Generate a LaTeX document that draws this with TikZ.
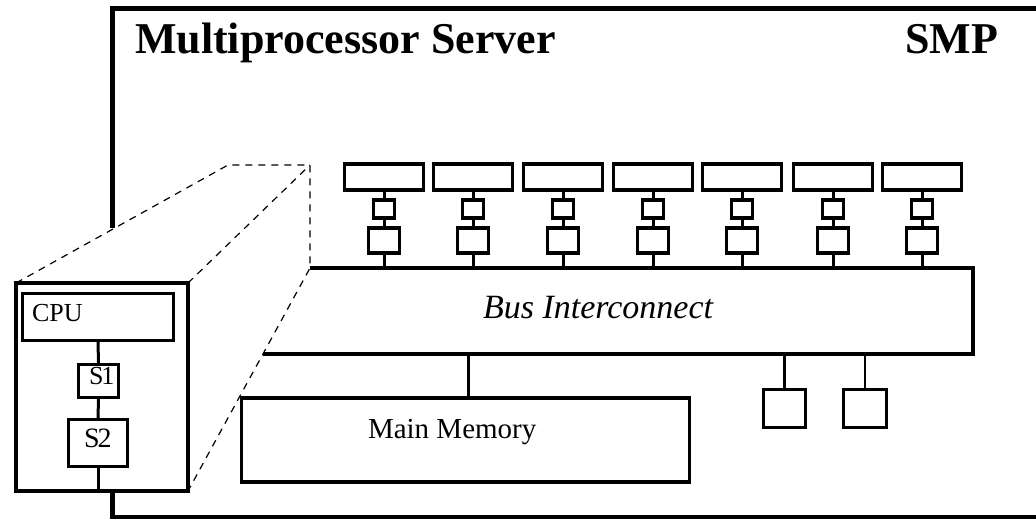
\documentclass[tikz,border=0pt]{standalone}
\usepackage{fontspec}
\setmainfont{Liberation Serif}
\begin{document}
\begin{tikzpicture}[x=1pt,y=-1pt,
  box/.style={draw,line width=3.5pt,inner sep=0pt,outer sep=0pt},
  wire/.style={line width=3pt},
  thinwire/.style={line width=2.2pt},
  framepen/.style={line width=5pt},
  zoomline/.style={line width=1.2pt,dash pattern=on 7pt off 6pt},
  lbl/.style={inner sep=0pt,outer sep=0pt,anchor=base west}]
\useasboundingbox (0,0) rectangle (1036,520);

% bus corners (left side is hidden behind the zoom outline)
\coordinate (busTL) at (310,268);
\coordinate (busTR) at (973,268);
\coordinate (busBR) at (973,354);
\coordinate (busBL) at (263,354);
\draw[line width=3.5pt] (busTL) -- (busTR) -- (busBR) -- (busBL);
\node[lbl,font={\fontsize{34}{40}\selectfont\itshape}] (bustext) at (483,318) {Bus Interconnect};

% processors with their two cache levels
\foreach \i/\x in {1/384,2/473,3/563,4/653,5/742,6/833,7/922} {
  \node[box,minimum width=79pt,minimum height=26pt] (cpu\i) at (\x,177) {};
  \node[box,minimum width=21pt,minimum height=18pt] (sa\i) at (\x,209) {};
  \node[box,minimum width=31pt,minimum height=25pt] (sb\i) at (\x,240.5) {};
  \draw[wire] (cpu\i.south) -- (sa\i.north);
  \draw[wire] (sa\i.south) -- (sb\i.north);
  \draw[wire] (sb\i.south) -- (sb\i.south |- busTL);
}

% main memory
\node[box,minimum width=448pt,minimum height=84pt] (mem) at (465.5,440) {};
\node[lbl,font={\fontsize{29}{34}\selectfont}] (memtext) at (368,438) {Main Memory};
\draw[wire] ([xshift=2.5pt]mem.north) -- ([xshift=2.5pt]mem.north |- busBL);

% I/O devices
\node[box,minimum width=42pt,minimum height=38pt] (dev1) at (784.5,408.5) {};
\node[box,minimum width=43pt,minimum height=38pt] (dev2) at (865,408.5) {};
\draw[thinwire] (dev1.north) -- (dev1.north |- busBL);
\draw[thinwire] (dev2.north) -- (dev2.north |- busBL);

% enlarged processor
\node[box,minimum width=172pt,minimum height=208pt] (inset) at (102,387) {};
\node[box,minimum width=151pt,minimum height=47pt] (icpu) at (98,317) {};
\node[box,minimum width=40pt,minimum height=33pt] (is1) at (98.5,381) {};
\node[box,minimum width=59pt,minimum height=47pt] (is2) at (98,443) {};
\node[lbl,font={\fontsize{26}{30}\selectfont}] (icputext) at (32,321) {CPU};
\node[lbl,font={\fontsize{26}{30}\selectfont}] (is1text) at (89,384) {S\kern-2pt 1};
\node[lbl,font={\fontsize{28}{32}\selectfont}] (is2text) at (84,447) {S\kern-2pt 2};
\draw[wire] (icpu.south) -- (is1.north);
\draw[wire] (is1.south) -- (is2.north);
\draw[wire] (is2.south) -- (is2.south |- inset.south);

% server frame
\coordinate (fcut) at (112,228);
\draw[framepen] (1040,8.5) -- (112,8.5) -- (fcut);
\draw[framepen] (112,492) -- (112,519);
\draw[line width=3.5pt] (110,517) -- (1040,517);

% zoom outline
\coordinate (zc) at (228,165);
\coordinate (zt) at (310,165);
\draw[zoomline] (inset.north west) -- (zc) -- (zt) -- (busTL) -- (inset.south east);
\draw[zoomline] (inset.north east) -- (zt);

% headings
\node[lbl,font={\fontsize{44}{50}\selectfont\bfseries}] (title) at (135,53) {Multiprocessor Server};
\node[lbl,font={\fontsize{44}{50}\selectfont\bfseries}] (smp) at (905,53) {SMP};
\end{tikzpicture}
\end{document}
